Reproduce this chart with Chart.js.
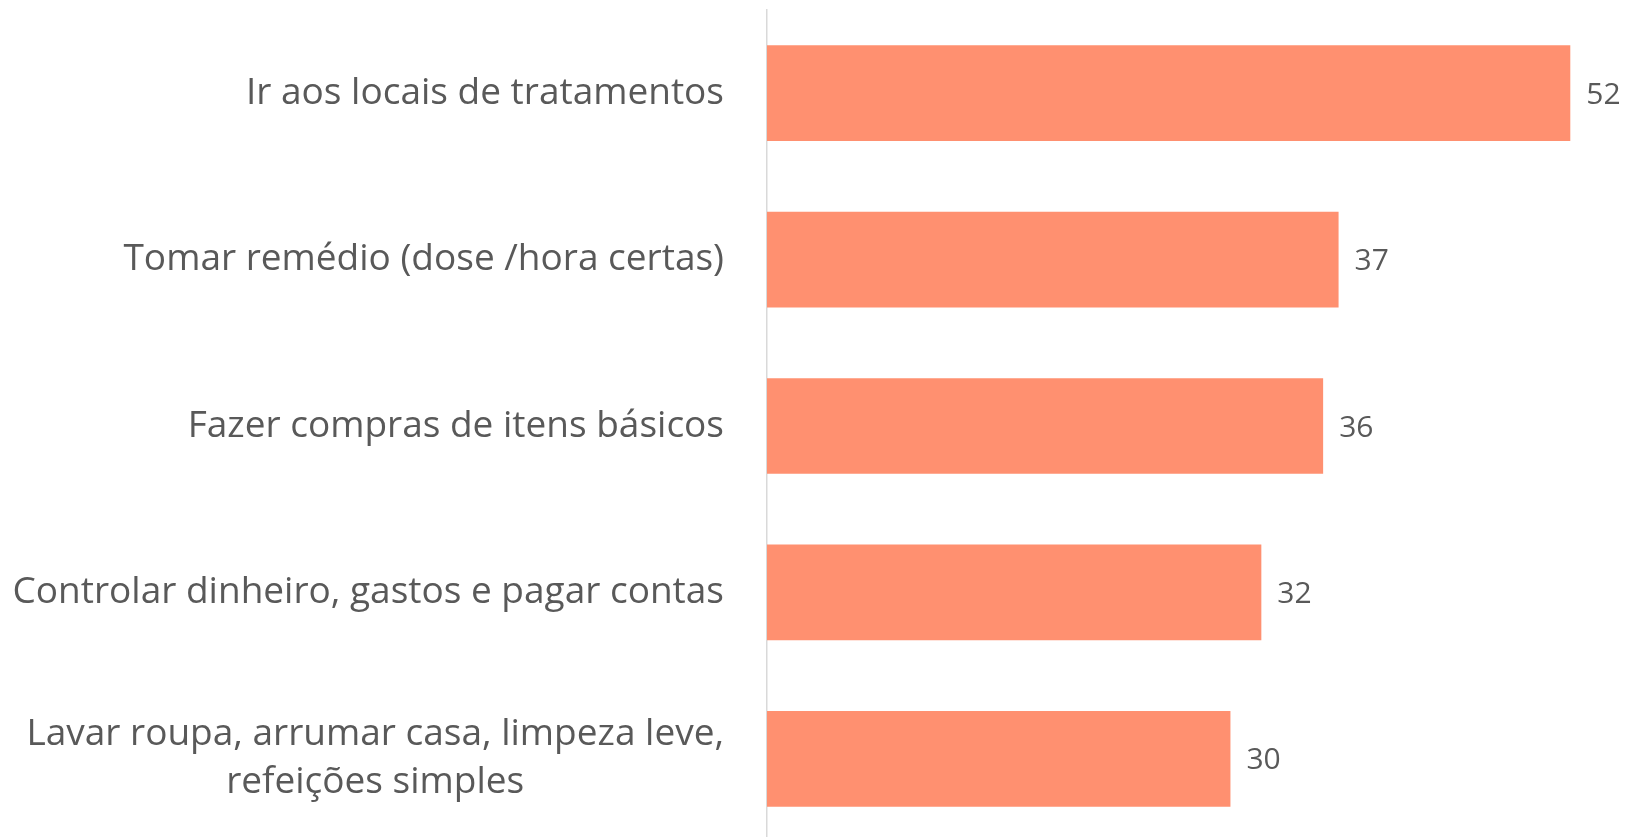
<!DOCTYPE html>
<html>
<head>
<meta charset="utf-8">
<script src="https://cdn.jsdelivr.net/npm/chart.js@4.4.1/dist/chart.umd.min.js"></script>
<style>
  html, body { margin: 0; padding: 0; background: #fff; overflow: hidden; }
  #wrap { width: 1629px; height: 842px; }
</style>
</head>
<body>
<div id="wrap"><canvas id="chart"></canvas></div>
<script>
// dados
const categories = [
  ["Ir aos locais de tratamentos"],
  ["Tomar remédio (dose /hora certas)"],
  ["Fazer compras de itens básicos"],
  ["Controlar dinheiro, gastos e pagar contas"],
  ["Lavar roupa, arrumar casa, limpeza leve,", "refeições simples"],
];
const values = [52, 37, 36, 32, 30];

const barColor = "#FF9070";
const labelFont = '37px "Open Sans"';
const valueFont = '30px "Open Sans"';

// desenha os rótulos das categorias (bloco alinhado à direita, linhas centralizadas)
const categoryLabels = {
  id: "categoryLabels",
  afterDraw(chart) {
    const ctx = chart.ctx;
    const yScale = chart.scales.y;
    const right = chart.chartArea.left - 43;
    const lineH = 48;
    ctx.save();
    ctx.font = labelFont;
    ctx.fillStyle = "#595959";
    ctx.textAlign = "center";
    ctx.textBaseline = "middle";
    categories.forEach((lines, i) => {
      const w = Math.max(...lines.map((l) => ctx.measureText(l).width));
      const cx = right - w / 2;
      const cy = yScale.getPixelForValue(i);
      const y0 = cy - ((lines.length - 1) * lineH) / 2;
      lines.forEach((l, j) => ctx.fillText(l, cx, y0 + j * lineH));
    });
    ctx.restore();
  },
};

// valores ao lado das barras
const valueLabels = {
  id: "valueLabels",
  afterDatasetsDraw(chart) {
    const ctx = chart.ctx;
    const meta = chart.getDatasetMeta(0);
    ctx.save();
    ctx.font = valueFont;
    ctx.fillStyle = "#595959";
    ctx.textAlign = "left";
    ctx.textBaseline = "middle";
    meta.data.forEach((bar, i) => {
      ctx.fillText(values[i], bar.x + 16, bar.y + 2);
    });
    ctx.restore();
  },
};

new Chart(document.getElementById("chart"), {
  type: "bar",
  data: {
    labels: categories,
    datasets: [
      {
        data: values,
        backgroundColor: barColor,
        borderWidth: 0,
        categoryPercentage: 0.575,
        barPercentage: 1,
      },
    ],
  },
  options: {
    indexAxis: "y",
    responsive: true,
    maintainAspectRatio: false,
    animation: false,
    layout: { padding: { top: 10, right: 0, bottom: 0, left: 0 } },
    plugins: {
      legend: { display: false },
      tooltip: { enabled: false },
    },
    scales: {
      x: {
        display: false,
        min: 0,
        max: 55.8,
      },
      y: {
        grid: { display: false },
        border: { display: true, color: "#d9d9d9", width: 1.5 },
        ticks: { display: false },
        afterFit: (scale) => {
          scale.width = 767;
        },
      },
    },
  },
  plugins: [categoryLabels, valueLabels],
});
</script>
</body>
</html>
